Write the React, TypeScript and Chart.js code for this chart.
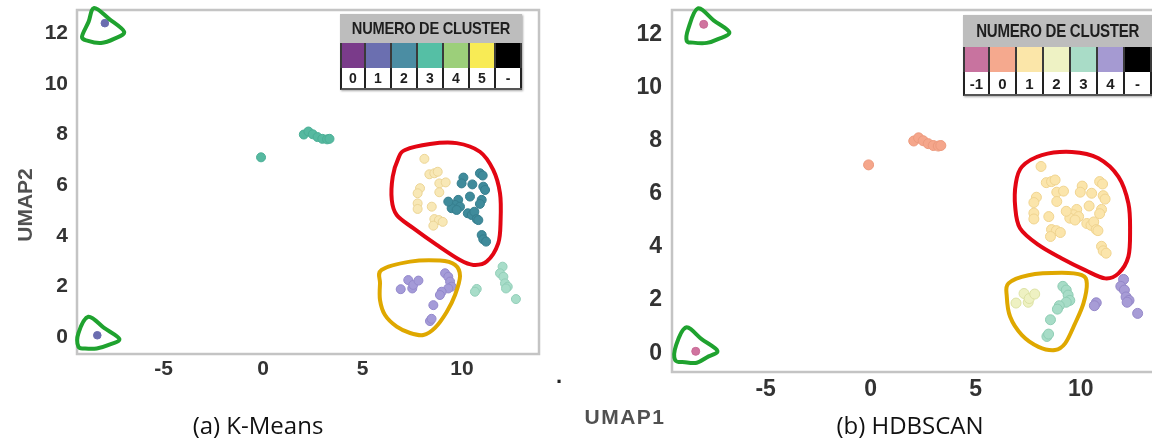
import React, { useEffect, useRef } from "react";
import { Chart, registerables } from "chart.js";

Chart.register(...registerables);

type Pt = { x: number; y: number };

// ---- shared UMAP embedding (UMAP1, UMAP2) ----
const tipTop: Pt[] = [{ x: -7.95, y: 12.4 }];
const tipBottom: Pt[] = [{ x: -8.33, y: 0.07 }];
const loneCenter: Pt[] = [{ x: -0.1, y: 7.1 }];
const arcGroup: Pt[] = [
  { x: 2.05, y: 8.0 }, { x: 2.28, y: 8.12 }, { x: 2.5, y: 8.01 }, { x: 2.74, y: 7.9 },
  { x: 2.98, y: 7.83 }, { x: 3.22, y: 7.81 }, { x: 3.34, y: 7.83 },
];
const creamGroup: Pt[] = [
  { x: 8.11, y: 7.04 }, { x: 8.36, y: 6.43 }, { x: 8.61, y: 6.47 }, { x: 8.78, y: 6.53 },
  { x: 8.86, y: 6.07 }, { x: 9.18, y: 6.11 }, { x: 7.89, y: 5.88 }, { x: 7.77, y: 5.68 },
  { x: 8.86, y: 5.72 }, { x: 7.77, y: 5.28 }, { x: 7.77, y: 5.06 }, { x: 8.48, y: 5.15 },
  { x: 8.61, y: 4.66 }, { x: 8.84, y: 4.62 }, { x: 9.03, y: 4.55 }, { x: 8.56, y: 4.4 },
];
const tealCore: Pt[] = [
  { x: 10.9, y: 6.47 }, { x: 11.04, y: 6.38 }, { x: 10.07, y: 6.3 }, { x: 9.98, y: 6.07 },
  { x: 10.52, y: 6.03 }, { x: 11.07, y: 5.94 }, { x: 11.16, y: 5.81 }, { x: 10.4, y: 5.55 },
  { x: 10.99, y: 5.42 }, { x: 10.9, y: 5.26 }, { x: 9.81, y: 5.42 }, { x: 9.65, y: 5.22 },
  { x: 9.48, y: 5.09 }, { x: 9.9, y: 5.15 }, { x: 9.73, y: 5.02 }, { x: 9.31, y: 5.35 },
  { x: 10.29, y: 4.89 }, { x: 10.49, y: 4.82 }, { x: 10.62, y: 4.95 }, { x: 10.74, y: 4.66 },
  { x: 10.82, y: 4.62 }, { x: 10.99, y: 4.03 }, { x: 11.07, y: 3.86 }, { x: 11.21, y: 3.77 },
];
const lowerLeft: Pt[] = [
  { x: 6.92, y: 1.89 }, { x: 7.3, y: 2.25 }, { x: 7.5, y: 1.92 }, { x: 7.55, y: 2.06 }, { x: 7.81, y: 2.23 },
];
const lowerRight: Pt[] = [
  { x: 9.15, y: 2.52 }, { x: 9.31, y: 2.38 }, { x: 9.4, y: 2.19 }, { x: 9.48, y: 1.99 },
  { x: 9.31, y: 1.92 }, { x: 8.98, y: 1.79 }, { x: 8.89, y: 1.66 }, { x: 8.56, y: 1.26 },
  { x: 8.39, y: 0.63 }, { x: 8.47, y: 0.72 },
];
const eastGroup: Pt[] = [
  { x: 12.04, y: 2.78 }, { x: 11.91, y: 2.52 }, { x: 12.08, y: 2.38 }, { x: 12.16, y: 2.12 },
  { x: 12.3, y: 1.99 }, { x: 12.21, y: 1.92 }, { x: 10.74, y: 1.9 }, { x: 10.65, y: 1.79 },
  { x: 12.71, y: 1.5 },
];

// ---- ticks ----
const xTicks = [-5, 0, 5, 10];
const yTicks = [0, 2, 4, 6, 8, 10, 12];

// ---- axis ranges ----
const xRangeA = [-9.35, 13.87];
const yRangeA = [-0.67, 12.92];
const xRangeB = [-9.46, 13.87];
const yRangeB = [-0.71, 12.94];

// ---- legends ----
const legendTitle = "NUMERO DE CLUSTER";
const kmeansLabels = ["0", "1", "2", "3", "4", "5", "-"];
const kmeansColors = ["#7a3b8a", "#6b6fb0", "#4b8da3", "#55bfa5", "#9ccf7a", "#f8eb55", "#000000"];
const hdbLabels = ["-1", "0", "1", "2", "3", "4", "-"];
const hdbColors = ["#c8739f", "#f5a98e", "#fbe6a9", "#eef2c4", "#a9dcc7", "#a59ad2", "#000000"];

// ---- hand-drawn outlines (data units) ----
const greenTopA: Pt[] = [
  { x: -8.49, y: 13.0 }, { x: -7.74, y: 12.57 }, { x: -6.98, y: 12.06 }, { x: -7.49, y: 11.78 },
  { x: -8.14, y: 11.62 }, { x: -8.79, y: 11.7 }, { x: -9.1, y: 11.86 }, { x: -8.77, y: 12.45 },
];
const greenBottomA: Pt[] = [
  { x: -8.78, y: 0.8 }, { x: -7.99, y: 0.36 }, { x: -7.22, y: -0.08 }, { x: -7.79, y: -0.32 },
  { x: -8.36, y: -0.45 }, { x: -8.94, y: -0.45 }, { x: -9.28, y: -0.38 }, { x: -9.28, y: 0.15 },
];
const redA: Pt[] = [
  { x: 7.14, y: 7.39 }, { x: 8.39, y: 7.63 }, { x: 9.73, y: 7.66 }, { x: 10.9, y: 7.32 },
  { x: 11.57, y: 6.6 }, { x: 11.91, y: 5.68 }, { x: 11.94, y: 4.62 }, { x: 11.82, y: 3.7 },
  { x: 11.24, y: 2.98 }, { x: 10.57, y: 2.85 }, { x: 9.9, y: 3.04 }, { x: 8.73, y: 3.64 },
  { x: 7.55, y: 4.3 }, { x: 6.72, y: 4.82 }, { x: 6.47, y: 5.42 }, { x: 6.52, y: 6.34 },
  { x: 6.8, y: 7.06 },
];
const goldA: Pt[] = [
  { x: 5.96, y: 2.65 }, { x: 7.39, y: 2.98 }, { x: 8.89, y: 3.02 }, { x: 9.65, y: 2.85 },
  { x: 9.9, y: 2.41 }, { x: 9.65, y: 1.66 }, { x: 9.23, y: 0.99 }, { x: 8.64, y: 0.36 },
  { x: 8.06, y: 0.08 }, { x: 7.39, y: 0.16 }, { x: 6.72, y: 0.41 }, { x: 6.13, y: 0.87 },
  { x: 5.88, y: 1.46 }, { x: 5.88, y: 2.12 },
];
const greenTopB: Pt[] = [
  { x: -8.23, y: 13.0 }, { x: -7.48, y: 12.55 }, { x: -6.73, y: 12.1 }, { x: -7.27, y: 11.84 },
  { x: -7.8, y: 11.7 }, { x: -8.46, y: 11.71 }, { x: -8.76, y: 11.78 }, { x: -8.68, y: 12.25 },
];
const greenBottomB: Pt[] = [
  { x: -8.79, y: 0.97 }, { x: -8.05, y: 0.53 }, { x: -7.3, y: 0.09 }, { x: -7.79, y: -0.15 },
  { x: -8.28, y: -0.36 }, { x: -8.84, y: -0.34 }, { x: -9.31, y: -0.26 }, { x: -9.26, y: 0.31 },
];
const redB: Pt[] = [
  { x: 7.2, y: 7.03 }, { x: 8.15, y: 7.47 }, { x: 9.58, y: 7.59 }, { x: 10.84, y: 7.35 },
  { x: 11.8, y: 6.65 }, { x: 12.27, y: 5.65 }, { x: 12.35, y: 4.64 }, { x: 12.27, y: 3.64 },
  { x: 11.8, y: 3.01 }, { x: 11.16, y: 2.82 }, { x: 10.21, y: 3.13 }, { x: 9.1, y: 3.57 },
  { x: 7.99, y: 4.08 }, { x: 7.11, y: 4.71 }, { x: 6.88, y: 5.52 }, { x: 6.91, y: 6.4 },
];
const goldB: Pt[] = [
  { x: 6.56, y: 2.63 }, { x: 7.51, y: 2.94 }, { x: 9.1, y: 3.03 }, { x: 10.05, y: 2.94 },
  { x: 10.29, y: 2.63 }, { x: 10.13, y: 1.88 }, { x: 9.73, y: 1.12 }, { x: 9.26, y: 0.37 },
  { x: 8.78, y: 0.12 }, { x: 7.99, y: 0.24 }, { x: 7.2, y: 0.68 }, { x: 6.64, y: 1.37 },
  { x: 6.48, y: 2.13 },
];

const GREEN = "#1fa22f";
const RED = "#e30613";
const GOLD = "#dfa800";

type DS = { data: Pt[]; bg: string; border: string; r: number };
type Outline = { pts: Pt[]; color: string };
type Spec = {
  datasets: DS[];
  xRange: number[];
  yRange: number[];
  yAxisW: number;
  xAxisH: number;
  padTop: number;
  padRight: number;
  tickSize: number;
  xTickPad: number;
  yTickPad: number;
  outlines: Outline[];
};

function closedCurve(ctx: CanvasRenderingContext2D, pts: { x: number; y: number }[]) {
  const n = pts.length;
  ctx.beginPath();
  ctx.moveTo(pts[0].x, pts[0].y);
  for (let i = 0; i < n; i++) {
    const p0 = pts[(i - 1 + n) % n];
    const p1 = pts[i];
    const p2 = pts[(i + 1) % n];
    const p3 = pts[(i + 2) % n];
    ctx.bezierCurveTo(
      p1.x + (p2.x - p0.x) / 6, p1.y + (p2.y - p0.y) / 6,
      p2.x - (p3.x - p1.x) / 6, p2.y - (p3.y - p1.y) / 6,
      p2.x, p2.y
    );
  }
  ctx.closePath();
  ctx.stroke();
}

function makePlugin(outlines: Outline[]) {
  return {
    id: "frameAndOutlines",
    beforeDatasetsDraw(chart: any) {
      const { ctx, chartArea } = chart;
      ctx.save();
      ctx.strokeStyle = "#c4c4c4";
      ctx.lineWidth = 2.5;
      ctx.strokeRect(chartArea.left, chartArea.top, chartArea.right - chartArea.left, chartArea.bottom - chartArea.top);
      ctx.restore();
    },
    afterDatasetsDraw(chart: any) {
      const { ctx } = chart;
      const xs = chart.scales.x;
      const ys = chart.scales.y;
      ctx.save();
      ctx.lineWidth = 4;
      ctx.lineJoin = "round";
      ctx.lineCap = "round";
      outlines.forEach((o) => {
        ctx.strokeStyle = o.color;
        closedCurve(ctx, o.pts.map((p) => ({ x: xs.getPixelForValue(p.x), y: ys.getPixelForValue(p.y) })));
      });
      ctx.restore();
    },
  };
}

function Panel({ spec, left, width, height }: { spec: Spec; left: number; width: number; height: number }) {
  const ref = useRef<HTMLCanvasElement>(null);
  useEffect(() => {
    const font = { family: "'Liberation Sans', Arial, sans-serif", size: spec.tickSize, weight: "bold" as const };
    const chart = new Chart(ref.current as HTMLCanvasElement, {
      type: "scatter",
      data: {
        datasets: spec.datasets.map((d) => ({
          data: d.data,
          backgroundColor: d.bg,
          borderColor: d.border,
          borderWidth: 1,
          pointRadius: d.r,
          pointHoverRadius: d.r,
        })),
      },
      options: {
        animation: false,
        responsive: false,
        maintainAspectRatio: false,
        layout: { padding: { left: 0, top: spec.padTop, right: spec.padRight, bottom: 0 } },
        plugins: { legend: { display: false }, tooltip: { enabled: false }, title: { display: false } },
        events: [],
        scales: {
          x: {
            type: "linear",
            min: spec.xRange[0],
            max: spec.xRange[1],
            grid: { display: false, drawTicks: false },
            border: { display: false },
            ticks: { font, color: "#333333", padding: spec.xTickPad, maxRotation: 0 },
            afterBuildTicks: (s: any) => {
              s.ticks = xTicks.map((v) => ({ value: v }));
            },
            afterFit: (s: any) => {
              s.height = spec.xAxisH;
              s.paddingLeft = 0;
              s.paddingRight = 0;
              s.paddingTop = 0;
              s.paddingBottom = 0;
            },
          },
          y: {
            type: "linear",
            min: spec.yRange[0],
            max: spec.yRange[1],
            grid: { display: false, drawTicks: false },
            border: { display: false },
            ticks: { font, color: "#333333", padding: spec.yTickPad },
            afterBuildTicks: (s: any) => {
              s.ticks = yTicks.map((v) => ({ value: v }));
            },
            afterFit: (s: any) => {
              s.width = spec.yAxisW;
              s.paddingLeft = 0;
              s.paddingRight = 0;
              s.paddingTop = 0;
              s.paddingBottom = 0;
            },
          },
        },
      },
      plugins: [makePlugin(spec.outlines)],
    } as any);
    return () => chart.destroy();
  }, []);
  return (
    <canvas
      ref={ref}
      width={width}
      height={height}
      style={{ position: "absolute", left, top: 0, width, height }}
    />
  );
}

function Legend({
  left, top, cellW, headerH, swatchH, numH, titleSize, numSize, colors, labels,
}: {
  left: number; top: number; cellW: number; headerH: number; swatchH: number; numH: number;
  titleSize: number; numSize: number; colors: string[]; labels: string[];
}) {
  const ff = "'Liberation Sans', Arial, sans-serif";
  return (
    <div
      style={{
        position: "absolute",
        left,
        top,
        width: cellW * colors.length,
        boxShadow: "1px 1px 2px rgba(0,0,0,0.35)",
        fontFamily: ff,
        fontWeight: "bold",
      }}
    >
      <div
        style={{
          height: headerH,
          background: "#bdbdbd",
          display: "flex",
          alignItems: "center",
          justifyContent: "center",
          overflow: "hidden",
        }}
      >
        <span
          style={{
            display: "inline-block",
            fontSize: titleSize,
            letterSpacing: -0.3,
            color: "#1e1e1e",
            whiteSpace: "nowrap",
            transform: "scaleX(0.86)",
          }}
        >
          {legendTitle}
        </span>
      </div>
      <div style={{ display: "flex", height: swatchH, borderLeft: "2px solid #3a3a3a", boxSizing: "border-box" }}>
        {colors.map((c, i) => (
          <div
            key={i}
            style={{
              width: i === 0 ? cellW - 2 : cellW,
              height: swatchH,
              background: c,
              borderRight: "2px solid #3a3a3a",
              boxSizing: "border-box",
            }}
          />
        ))}
      </div>
      <div
        style={{
          display: "flex",
          height: numH,
          background: "#ffffff",
          borderLeft: "2px solid #222",
          borderBottom: "2px solid #555",
          boxSizing: "border-box",
        }}
      >
        {labels.map((l, i) => (
          <div
            key={i}
            style={{
              width: i === 0 ? cellW - 2 : cellW,
              height: numH - 2,
              borderRight: "2px solid #222",
              boxSizing: "border-box",
              display: "flex",
              alignItems: "center",
              justifyContent: "center",
              fontSize: numSize,
              color: "#1e1e1e",
            }}
          >
            {l}
          </div>
        ))}
      </div>
    </div>
  );
}

const specA: Spec = {
  datasets: [
    { data: [...tipTop, ...tipBottom], bg: "#6b6db0", border: "#6b6db0", r: 3.8 },
    { data: [...loneCenter, ...arcGroup], bg: "#56b9a0", border: "#4aae95", r: 4.5 },
    { data: creamGroup, bg: "#f8e8b6", border: "#ecd596", r: 4.5 },
    { data: tealCore, bg: "#3f8b9b", border: "#367e8e", r: 4.5 },
    { data: [...lowerLeft, ...lowerRight], bg: "#a49bd8", border: "#9489cc", r: 4.5 },
    { data: eastGroup, bg: "#a8ddc9", border: "#93cfb9", r: 4.5 },
  ],
  xRange: xRangeA,
  yRange: yRangeA,
  yAxisW: 77,
  xAxisH: 86,
  padTop: 10,
  padRight: 21,
  tickSize: 21,
  xTickPad: 3,
  yTickPad: 9,
  outlines: [
    { pts: greenTopA, color: GREEN },
    { pts: greenBottomA, color: GREEN },
    { pts: redA, color: RED },
    { pts: goldA, color: GOLD },
  ],
};

const specB: Spec = {
  datasets: [
    { data: [...tipTop, ...tipBottom], bg: "#d0749f", border: "#c96a96", r: 4 },
    { data: [...loneCenter, ...arcGroup], bg: "#f5a68b", border: "#ec9a7e", r: 5 },
    { data: [...creamGroup, ...tealCore], bg: "#fbe5ab", border: "#f0d490", r: 5 },
    { data: lowerLeft, bg: "#eef1c2", border: "#dde2a4", r: 5 },
    { data: lowerRight, bg: "#a7dcc7", border: "#8fcdb4", r: 5 },
    { data: eastGroup, bg: "#a79cd6", border: "#9588c9", r: 5 },
  ],
  xRange: xRangeB,
  yRange: yRangeB,
  yAxisW: 112,
  xAxisH: 68,
  padTop: 10,
  padRight: 18,
  tickSize: 23,
  xTickPad: 4,
  yTickPad: 10,
  outlines: [
    { pts: greenTopB, color: GREEN },
    { pts: greenBottomB, color: GREEN },
    { pts: redB, color: RED },
    { pts: goldB, color: GOLD },
  ],
};

export default function App() {
  const sans = "'Liberation Sans', Arial, sans-serif";
  return (
    <div
      style={{
        position: "fixed",
        left: 0,
        top: 0,
        width: 1152,
        height: 440,
        overflow: "hidden",
        background: "#ffffff",
      }}
    >
      <Panel spec={specA} left={0} width={560} height={440} />
      <Panel spec={specB} left={560} width={620} height={440} />

      <Legend
        left={340} top={14} cellW={26} headerH={29} swatchH={25} numH={22}
        titleSize={17} numSize={14} colors={kmeansColors} labels={kmeansLabels}
      />
      <Legend
        left={963} top={15} cellW={27} headerH={32} swatchH={25} numH={24}
        titleSize={17.5} numSize={15} colors={hdbColors} labels={hdbLabels}
      />

      <div
        style={{
          position: "absolute",
          left: 25 - 60,
          top: 205 - 13,
          width: 120,
          height: 26,
          lineHeight: "26px",
          textAlign: "center",
          transform: "rotate(-90deg)",
          fontFamily: sans,
          fontWeight: "bold",
          fontSize: 21,
          color: "#505050",
        }}
      >
        UMAP2
      </div>
      <div
        style={{
          position: "absolute",
          left: 625 - 70,
          top: 417 - 13,
          width: 140,
          height: 26,
          lineHeight: "26px",
          textAlign: "center",
          fontFamily: sans,
          fontWeight: "bold",
          fontSize: 21,
          letterSpacing: 1.5,
          color: "#505050",
        }}
      >
        UMAP1
      </div>
      <div
        style={{
          position: "absolute",
          left: 556,
          top: 364,
          width: 12,
          height: 24,
          lineHeight: "24px",
          fontFamily: sans,
          fontWeight: "bold",
          fontSize: 22,
          color: "#222",
        }}
      >
        .
      </div>
      <div
        style={{
          position: "absolute",
          left: 258 - 120,
          top: 425 - 17,
          width: 240,
          height: 34,
          lineHeight: "34px",
          textAlign: "center",
          fontFamily: "'Open Sans', sans-serif",
          fontSize: 24,
          color: "#111",
        }}
      >
        (a) K-Means
      </div>
      <div
        style={{
          position: "absolute",
          left: 910 - 120,
          top: 425 - 17,
          width: 240,
          height: 34,
          lineHeight: "34px",
          textAlign: "center",
          fontFamily: "'Open Sans', sans-serif",
          fontSize: 24,
          color: "#111",
        }}
      >
        (b) HDBSCAN
      </div>
    </div>
  );
}
